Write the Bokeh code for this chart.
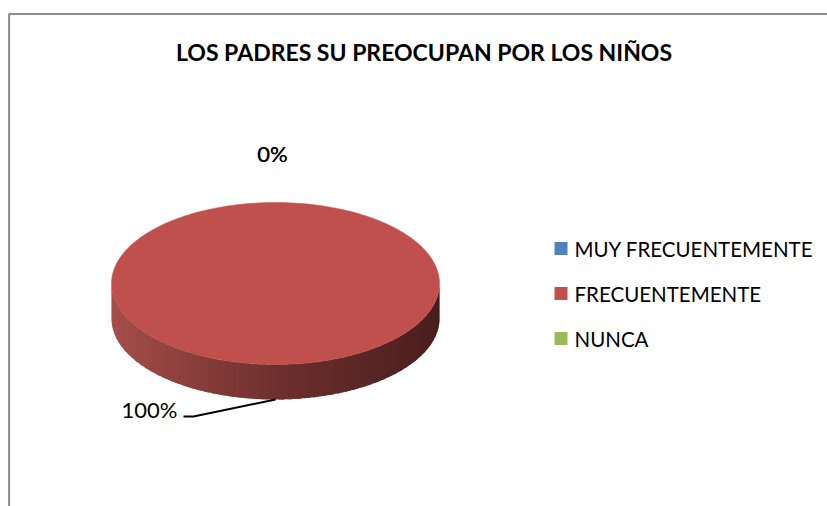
import math
from bokeh.plotting import figure
from bokeh.models import Range1d, ColumnDataSource
from bokeh.core.properties import value
from bokeh.embed import file_html
from bokeh.resources import INLINE

# ---- data ----
title_text = "LOS PADRES SU PREOCUPAN POR LOS NIÑOS"
categories = ["MUY FRECUENTEMENTE", "FRECUENTEMENTE", "NUNCA"]
values = [0, 100, 0]
colors = ["#4f81bd", "#c0504d", "#9bbb59"]

# ---- layout (page pixel coordinates) ----
W, H = 827, 506
FONT = "Lato"
cx, cy, rx, ry, depth = 275.0, 283.0, 164.0, 81.0, 35.0

p = figure(width=W, height=H, output_backend="svg", toolbar_location=None,
           x_range=Range1d(0, W), y_range=Range1d(H, 0),
           x_axis_type=None, y_axis_type=None, min_border=0,
           background_fill_color="white", border_fill_color="white")
p.grid.visible = False
p.outline_line_color = None

# chart frame
p.line(x=[8.6, 8.6, W + 5], y=[H + 5, 13.5, 13.5], line_color="#8c8c8c", line_width=2)

def pt(theta, dy=0.0):
    return cx + rx * math.sin(theta), cy - ry * math.cos(theta) + dy

def lerp_color(c1, c2, t):
    a = [int(c1[i:i + 2], 16) for i in (1, 3, 5)]
    b = [int(c2[i:i + 2], 16) for i in (1, 3, 5)]
    return "#%02x%02x%02x" % tuple(int(round(a[k] + (b[k] - a[k]) * t)) for k in range(3))

total = float(sum(values))
start = 0.0
slices = []
for cat, v, col in zip(categories, values, colors):
    frac = v / total
    a0 = start * 2 * math.pi
    a1 = (start + frac) * 2 * math.pi
    slices.append((cat, v, col, a0, a1, frac))
    start += frac

# side walls (front half only), shaded left -> right
side_xs, side_ys, side_cols = [], [], []
for cat, v, col, a0, a1, frac in slices:
    if frac <= 0:
        continue
    lo = max(a0, math.pi / 2)
    hi = min(a1, 3 * math.pi / 2)
    if hi <= lo:
        continue
    n = 60
    for i in range(n):
        t0 = lo + (hi - lo) * i / n
        t1 = min(hi, lo + (hi - lo) * (i + 1.6) / n)
        x0, y0 = pt(t0)
        x1, y1 = pt(t1)
        k = 8
        top = [pt(t0 + (t1 - t0) * j / k) for j in range(k + 1)]
        xs = [q[0] for q in top] + [q[0] for q in reversed(top)]
        ys = [q[1] for q in top] + [q[1] + depth for q in reversed(top)]
        side_xs.append(xs)
        side_ys.append(ys)
        u = (max(x0, x1) - (cx - rx)) / (2 * rx)
        u = min(max(u, 0.0), 1.0)
        if u < 0.5:
            c = lerp_color("#a64e4b", "#6f302e", u / 0.5)
        else:
            c = lerp_color("#6f302e", "#4a1e1e", (u - 0.5) / 0.5)
        side_cols.append(c)
# draw from right to left so each strip's overlap sits under the next
order = sorted(range(len(side_xs)), key=lambda i: -min(side_xs[i]))
p.patches(xs=[side_xs[i] for i in order], ys=[side_ys[i] for i in order],
          fill_color=[side_cols[i] for i in order], line_color=None)

# top faces
for cat, v, col, a0, a1, frac in slices:
    if frac <= 0:
        continue
    n = 240
    xs, ys = [], []
    for i in range(n + 1):
        x, y = pt(a0 + (a1 - a0) * i / n)
        xs.append(x)
        ys.append(y)
    if frac < 1:
        xs.append(cx)
        ys.append(cy)
    p.patch(x=xs, y=ys, fill_color=col, line_color=col, line_width=0.5)

# data labels
seen = set()
lab_x, lab_y, lab_t, lab_align = [], [], [], []
for cat, v, col, a0, a1, frac in slices:
    mid = (a0 + a1) / 2
    txt = "%d%%" % round(frac * 100)
    if frac <= 0:
        key = (round(mid, 3), txt)
        if key in seen:
            continue
        seen.add(key)
        x, y = pt(mid, -50)
        lab_x.append(x - 3); lab_y.append(y + 1); lab_t.append(txt); lab_align.append("center")
    else:
        ax, ay = pt(mid, depth)
        ex, ey = ax - 82, ay + 17
        p.line(x=[ax, ex, ex - 10], y=[ay, ey, ey], line_color="black", line_width=2)
        lab_x.append(ex - 16); lab_y.append(ey - 7); lab_t.append(txt); lab_align.append("right")
src = ColumnDataSource(dict(x=lab_x, y=lab_y, t=lab_t, a=lab_align))
p.text(x="x", y="y", text="t", text_align="a", source=src, text_baseline="middle",
       text_font=value(FONT), text_font_size="22px", text_color="black")

# title
p.text(x=[423.5], y=[51], text=[title_text], text_align="center", text_baseline="middle",
       text_font=value(FONT), text_font_size="23px", text_font_style="bold", text_color="black")

# legend
leg_y = [248 + 45 * i for i in range(len(categories))]
p.rect(x=[560.5] * len(categories), y=leg_y, width=13, height=13,
       fill_color=colors, line_color=None)
p.text(x=[574] * len(categories), y=leg_y, text=categories, text_baseline="middle",
       text_font=value(FONT), text_font_size="20.5px", text_color="black")

open("out.html", "w").write(file_html(p, INLINE))
